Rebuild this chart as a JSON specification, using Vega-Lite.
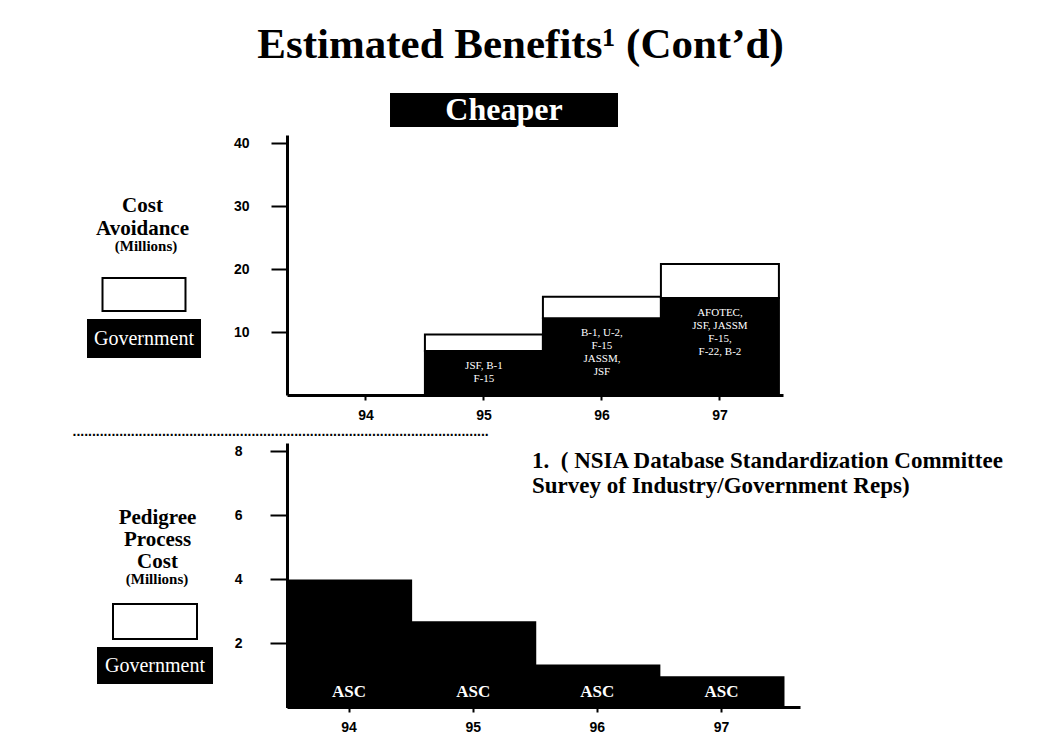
{
  "$schema": "https://vega.github.io/schema/vega-lite/v6.json",
  "padding": {"left": 72, "top": 24, "right": 5, "bottom": 5},
  "background": "white",
  "datasets": {
    "header": [{"label": "Cheaper"}],
    "cost": [
      {"year": "94", "sector": "Government", "value": 0},
      {"year": "94", "sector": "Industry", "value": 0},
      {"year": "95", "sector": "Government", "value": 7.0, "names": ["JSF, B-1", "F-15"]},
      {"year": "95", "sector": "Industry", "value": 2.6},
      {"year": "96", "sector": "Government", "value": 12.2, "names": ["B-1, U-2,", "F-15", "JASSM,", "JSF"]},
      {"year": "96", "sector": "Industry", "value": 3.4},
      {"year": "97", "sector": "Government", "value": 15.4, "names": ["AFOTEC,", "JSF, JASSM", "F-15,", "F-22, B-2"]},
      {"year": "97", "sector": "Industry", "value": 5.4}
    ],
    "pedigree": [
      {"year": "94", "sector": "Government", "value": 3.95, "org": "ASC"},
      {"year": "95", "sector": "Government", "value": 2.65, "org": "ASC"},
      {"year": "96", "sector": "Government", "value": 1.3, "org": "ASC"},
      {"year": "97", "sector": "Government", "value": 0.93, "org": "ASC"}
    ]
  },
  "config": {
    "view": {"stroke": null},
    "font": "Liberation Sans",
    "axis": {"labelColor": "black", "tickColor": "black", "domainColor": "black", "titleColor": "black", "grid": false}
  },
  "bounds": "flush",
  "spacing": 8,
  "resolve": {"scale": {"color": "independent"}, "legend": {"color": "independent"}},
  "vconcat": [
    {
      "width": 331,
      "height": 34,
      "data": {"name": "header"},
      "title": {"text": "Estimated Benefits¹ (Cont\u2019d)", "font": "Liberation Serif", "fontSize": 43, "fontWeight": "bold", "color": "black", "anchor": "middle", "frame": "group", "offset": -8, "dx": 68, "baseline": "alphabetic"},
      "encoding": {
        "x": {"field": "label", "type": "nominal", "scale": {"paddingInner": 0, "paddingOuter": 0.2259, "align": 1}, "axis": null}
      },
      "layer": [
        {"mark": {"type": "bar", "color": "black"}},
        {
          "mark": {"type": "text", "color": "white", "font": "Liberation Serif", "fontWeight": "bold", "fontSize": 32, "baseline": "middle"},
          "encoding": {"text": {"field": "label", "type": "nominal"}}
        }
      ]
    },
    {
      "width": 496,
      "height": 260,
      "data": {"name": "cost"},
      "encoding": {
        "x": {
          "field": "year", "type": "ordinal",
          "scale": {"domain": ["94", "95", "96", "97"], "paddingInner": 0, "paddingOuter": 0.1017, "align": 0.83},
          "axis": {
            "labelAngle": 0, "labelFont": "Liberation Sans", "labelFontWeight": "bold", "labelFontSize": 14, "labelPadding": 8,
            "tickSize": 5, "tickWidth": 2, "domainWidth": 3,
            "title": "...........................................................................................................",
            "titleX": -215, "titleY": 40, "titleAlign": "left", "titleBaseline": "alphabetic",
            "titleFont": "Liberation Sans", "titleFontSize": 14, "titleFontWeight": "bold"
          }
        },
        "y": {
          "field": "value", "type": "quantitative",
          "scale": {"domain": [0, 41.3], "nice": false},
          "axis": {
            "values": [10, 20, 30, 40], "tickSize": 16, "tickWidth": 2, "domainWidth": 3,
            "labelFont": "Liberation Sans", "labelFontWeight": "bold", "labelFontSize": 14, "labelPadding": 22,
            "title": ["Cost", "Avoidance"], "titleFont": "Liberation Serif", "titleFontSize": 21, "titleFontWeight": "bold",
            "titleAngle": 0, "titleAlign": "center", "titleBaseline": "alphabetic", "titleX": -145, "titleY": 76, "titleLineHeight": 23
          }
        }
      },
      "layer": [
        {
          "mark": {"type": "bar", "stroke": "black", "strokeWidth": 2},
          "encoding": {
            "color": {
              "field": "sector", "type": "nominal",
              "scale": {"domain": ["Industry", "Government"], "range": ["white", "black"]},
              "legend": {
                "orient": "none", "legendX": -199, "legendY": 104, "padding": 0,
                "title": "(Millions)", "titleFont": "Liberation Serif", "titleFontSize": 15, "titleFontWeight": "bold", "titleColor": "black",
                "titleAnchor": "middle", "titleAlign": "center", "titlePadding": 21, "rowPadding": 1,
                "symbolSize": 1369, "symbolType": "M-1.054,-1L5,-1L5,1L-1.054,1Z", "symbolStrokeColor": "black", "symbolStrokeWidth": 2, "symbolOpacity": 1,
                "labelExpr": "datum.value == 'Government' ? 'Government' : ''",
                "labelFont": "Liberation Serif", "labelFontSize": 20, "labelColor": "white", "labelAlign": "center", "labelBaseline": "middle", "labelOffset": 17, "labelLimit": 300,
                "encoding": {
                  "symbols": {
                    "shape": {"condition": {"test": "datum.value === 'Government'", "value": "M-1.054,-1L5,-1L5,1L-1.054,1Z"}, "value": "M-0.27,-0.89L4.216,-0.89L4.216,0.89L-0.27,0.89Z"},
                    "stroke": {"value": "black"},
                    "strokeWidth": {"value": 2}
                  }
                }
              }
            },
            "order": {"field": "sector", "sort": "ascending"}
          }
        },
        {
          "transform": [{"filter": "datum.sector == 'Government' && datum.value > 0"}],
          "mark": {"type": "text", "color": "white", "font": "Liberation Serif", "fontSize": 11, "lineHeight": 13, "baseline": "top", "dy": 9},
          "encoding": {
            "text": {"field": "names", "type": "nominal"}
          }
        }
      ]
    },
    {
      "width": 10,
      "height": 32,
      "data": {"values": []},
      "mark": "point"
    },
    {
      "width": 513,
      "height": 264,
      "data": {"name": "pedigree"},
      "title": {
        "text": ["1.\u00a0\u00a0( NSIA Database Standardization Committee", "\u00a0\u00a0\u00a0\u00a0\u00a0Survey of Industry/Government Reps)"],
        "anchor": "start", "frame": "group", "dx": 245, "dy": 73, "offset": 0,
        "font": "Liberation Serif", "fontSize": 23, "fontWeight": "bold", "lineHeight": 25, "baseline": "alphabetic", "color": "black"
      },
      "encoding": {
        "x": {
          "field": "year", "type": "ordinal",
          "scale": {"domain": ["94", "95", "96", "97"], "paddingInner": 0, "paddingOuter": 0.0665, "align": 0},
          "axis": {
            "labelAngle": 0, "labelFont": "Liberation Sans", "labelFontWeight": "bold", "labelFontSize": 14, "labelPadding": 8,
            "tickSize": 5, "tickWidth": 2, "domainWidth": 3, "title": null
          }
        },
        "y": {
          "field": "value", "type": "quantitative",
          "scale": {"domain": [0, 8.25], "nice": false},
          "axis": {
            "values": [2, 4, 6, 8], "tickSize": 17, "tickWidth": 2, "domainWidth": 3,
            "labelFont": "Liberation Sans", "labelFontWeight": "bold", "labelFontSize": 14, "labelPadding": 28,
            "title": ["Pedigree", "Process", "Cost"], "titleFont": "Liberation Serif", "titleFontSize": 21, "titleFontWeight": "bold",
            "titleAngle": 0, "titleAlign": "center", "titleBaseline": "alphabetic", "titleX": -130, "titleY": 80, "titleLineHeight": 22
          }
        }
      },
      "layer": [
        {
          "mark": {"type": "bar", "stroke": "black", "strokeWidth": 2},
          "encoding": {
            "color": {
              "field": "sector", "type": "nominal",
              "scale": {"domain": ["Industry", "Government"], "range": ["white", "black"]},
              "legend": {
                "orient": "none", "legendX": -189, "legendY": 129, "padding": 0,
                "title": "(Millions)", "titleFont": "Liberation Serif", "titleFontSize": 15, "titleFontWeight": "bold", "titleColor": "black",
                "titleAnchor": "middle", "titleAlign": "center", "titlePadding": 16, "rowPadding": 1,
                "symbolSize": 1225, "symbolType": "M-1.057,-1L5.457,-1L5.457,1L-1.057,1Z", "symbolStrokeColor": "black", "symbolStrokeWidth": 2, "symbolOpacity": 1,
                "labelExpr": "datum.value == 'Government' ? 'Government' : ''",
                "labelFont": "Liberation Serif", "labelFontSize": 20, "labelColor": "white", "labelAlign": "center", "labelBaseline": "middle", "labelOffset": 20, "labelLimit": 300,
                "encoding": {
                  "symbols": {
                    "shape": {"condition": {"test": "datum.value === 'Government'", "value": "M-1.057,-1L5.457,-1L5.457,1L-1.057,1Z"}, "value": "M-0.2,-1L4.6,-1L4.6,1L-0.2,1Z"},
                    "stroke": {"value": "black"},
                    "strokeWidth": {"value": 2}
                  }
                }
              }
            }
          }
        },
        {
          "mark": {"type": "text", "color": "white", "font": "Liberation Serif", "fontWeight": "bold", "fontSize": 17, "baseline": "alphabetic", "dy": -10},
          "encoding": {
            "y": {"datum": 0, "type": "quantitative"},
            "text": {"field": "org", "type": "nominal"}
          }
        }
      ]
    }
  ]
}
